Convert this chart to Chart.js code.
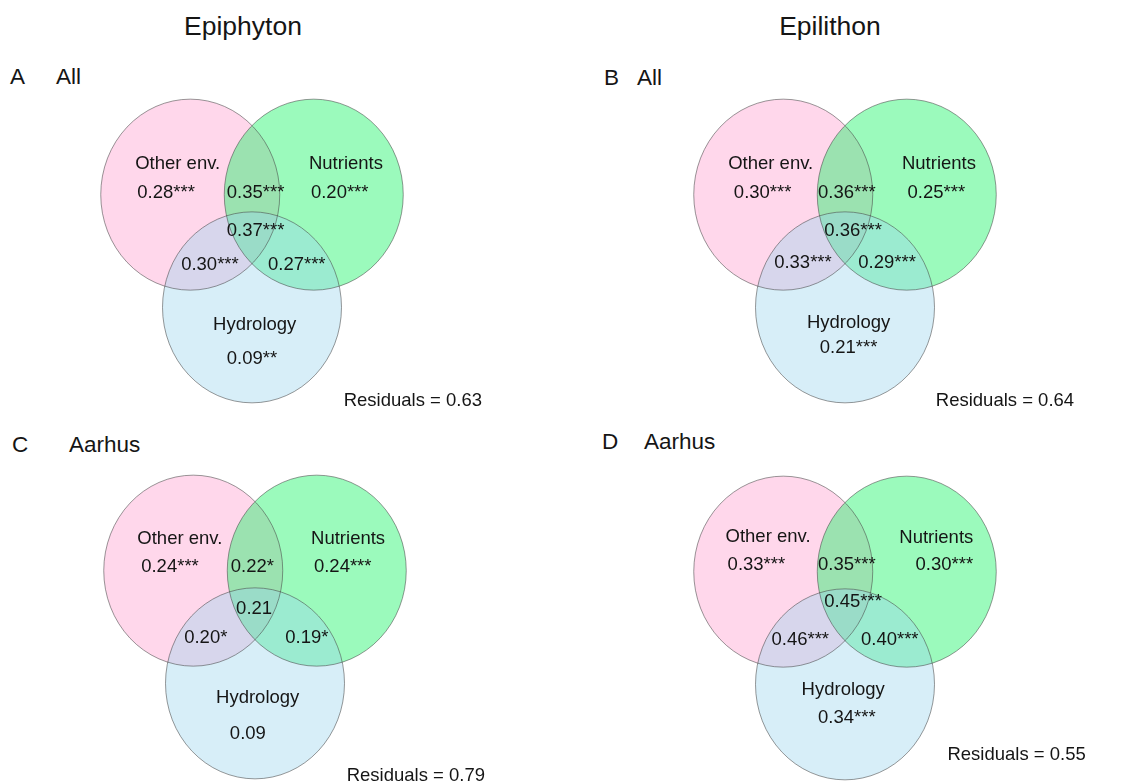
<!DOCTYPE html>
<html><head><meta charset="utf-8">
<script src="https://cdn.jsdelivr.net/npm/chart.js@4.4.1/dist/chart.umd.min.js"></script>
<style>
html,body{margin:0;padding:0;background:#fff;width:1143px;height:782px;overflow:hidden;position:relative;font-family:"Liberation Sans",Arial,sans-serif;}
.t{position:absolute;white-space:nowrap;color:#151515;line-height:1;}
.panel{position:absolute;}
</style></head><body>
<script>
// ---------------- DATA ----------------
const columnTitles = ['Epiphyton', 'Epilithon'];
const panelLetters = ['A', 'B', 'C', 'D'];
const panelSites = ['All', 'All', 'Aarhus', 'Aarhus'];
const setNames = ['Other env.', 'Nutrients', 'Hydrology'];
// region order: Other env. only, Nutrients only, Hydrology only,
//               Other∩Nutrients, Other∩Hydrology, Nutrients∩Hydrology, all three
const valuesA = [0.28, 0.20, 0.09, 0.35, 0.30, 0.27, 0.37];
const signifA = ['***', '***', '**', '***', '***', '***', '***'];
const valuesB = [0.30, 0.25, 0.21, 0.36, 0.33, 0.29, 0.36];
const signifB = ['***', '***', '***', '***', '***', '***', '***'];
const valuesC = [0.24, 0.24, 0.09, 0.22, 0.20, 0.19, 0.21];
const signifC = ['***', '***', '', '*', '*', '*', ''];
const valuesD = [0.33, 0.30, 0.34, 0.35, 0.46, 0.40, 0.45];
const signifD = ['***', '***', '***', '***', '***', '***', '***'];
const residuals = [0.63, 0.64, 0.79, 0.55];

// ---------------- LAYOUT / STYLE ----------------
const VENN_CENTERS = [[-0.69, 0.59], [0.69, 0.59], [0, -0.59]];
const VENN_RADIUS = 1;
const FILLS = ['rgba(255,155,205,0.4)', 'rgba(5,242,87,0.4)', 'rgba(155,212,237,0.4)'];
const STROKE = 'rgba(70,70,70,0.55)';
const PX_X = 89.5, PX_Y = 95.5, HALF_W = 250, HALF_H = 170;
const PANEL_ORIGIN = [[252, 250.5], [845, 250.5], [255, 626.5], [845, 628]];
const LABEL_POS = [
  { names: [[-0.83, 0.86], [1.05, 0.86], [0.03, -0.83]],
    values: [[-0.96, 0.56], [0.98, 0.56], [0.0, -1.18], [0.04, 0.56], [-0.47, -0.20], [0.50, -0.20], [0.04, 0.16]],
    resid: [2.57, -1.62] },
  { names: [[-0.83, 0.86], [1.05, 0.86], [0.04, -0.81]],
    values: [[-0.92, 0.56], [1.02, 0.56], [0.04, -1.07], [0.02, 0.56], [-0.47, -0.18], [0.47, -0.18], [0.09, 0.16]],
    resid: [2.56, -1.62] },
  { names: [[-0.84, 0.87], [1.04, 0.87], [0.03, -0.80]],
    values: [[-0.95, 0.58], [0.98, 0.58], [-0.08, -1.17], [-0.03, 0.58], [-0.55, -0.17], [0.58, -0.17], [-0.01, 0.14]],
    resid: [2.57, -1.61] },
  { names: [[-0.86, 0.90], [1.02, 0.89], [-0.02, -0.70]],
    values: [[-0.99, 0.61], [1.11, 0.61], [0.02, -0.99], [0.02, 0.61], [-0.50, -0.18], [0.50, -0.18], [0.09, 0.22]],
    resid: [2.69, -1.38] }
];
const TITLE_POS = [[243, 35], [830, 35]];
const LETTER_POS = [[10, 56, 85], [604, 637, 86], [12, 69, 453], [602, 644, 450]];
const LABEL_FONT = '18.5px "Liberation Sans", Arial, sans-serif';
const TITLE_SIZE = 26.5, LETTER_SIZE = 22.5;

const panelValues = [valuesA, valuesB, valuesC, valuesD];
const panelSignif = [signifA, signifB, signifC, signifD];

function addText(txt, left, baseline, size, center) {
  const d = document.createElement('div');
  d.className = 't';
  d.textContent = txt;
  d.style.fontSize = size + 'px';
  d.style.left = left + 'px';
  d.style.top = (baseline - 0.8465 * size) + 'px';
  if (center) d.style.transform = 'translateX(-50%)';
  document.body.appendChild(d);
}

columnTitles.forEach((t, i) => addText(t, TITLE_POS[i][0], TITLE_POS[i][1], TITLE_SIZE, true));
panelLetters.forEach((l, i) => {
  addText(l, LETTER_POS[i][0], LETTER_POS[i][2], LETTER_SIZE, false);
  addText(panelSites[i], LETTER_POS[i][1], LETTER_POS[i][2], LETTER_SIZE, false);
});

const vennPlugin = {
  id: 'venn',
  beforeDatasetsDraw(chart) {
    const { ctx, scales: { x, y } } = chart;
    const shapes = chart.data.datasets.map(ds => {
      const c = ds.data[0];
      const cx = x.getPixelForValue(c.x), cy = y.getPixelForValue(c.y);
      const rx = Math.abs(x.getPixelForValue(c.x + ds.vennRadius) - cx);
      const ry = Math.abs(y.getPixelForValue(c.y + ds.vennRadius) - cy);
      return { cx, cy, rx, ry, fill: ds.backgroundColor };
    });
    ctx.save();
    shapes.forEach(s => {
      ctx.beginPath();
      ctx.ellipse(s.cx, s.cy, s.rx, s.ry, 0, 0, Math.PI * 2);
      ctx.fillStyle = s.fill;
      ctx.fill();
    });
    ctx.lineWidth = 1;
    ctx.strokeStyle = STROKE;
    shapes.forEach(s => {
      ctx.beginPath();
      ctx.ellipse(s.cx, s.cy, s.rx, s.ry, 0, 0, Math.PI * 2);
      ctx.stroke();
    });
    ctx.restore();
  },
  afterDatasetsDraw(chart) {
    const { ctx, scales: { x, y } } = chart;
    const o = chart.options.plugins.venn;
    const pos = LABEL_POS[o.panel];
    ctx.save();
    ctx.font = LABEL_FONT;
    ctx.fillStyle = '#151515';
    ctx.textAlign = 'center';
    ctx.textBaseline = 'alphabetic';
    setNames.forEach((n, i) => {
      ctx.fillText(n, x.getPixelForValue(pos.names[i][0]), y.getPixelForValue(pos.names[i][1]));
    });
    o.values.forEach((v, i) => {
      ctx.fillText(v.toFixed(2) + o.signif[i], x.getPixelForValue(pos.values[i][0]), y.getPixelForValue(pos.values[i][1]));
    });
    ctx.textAlign = 'right';
    ctx.fillText('Residuals = ' + o.resid.toFixed(2), x.getPixelForValue(pos.resid[0]), y.getPixelForValue(pos.resid[1]));
    ctx.restore();
  }
};

panelLetters.forEach((letter, p) => {
  const wrap = document.createElement('div');
  wrap.className = 'panel';
  wrap.style.left = (PANEL_ORIGIN[p][0] - HALF_W) + 'px';
  wrap.style.top = (PANEL_ORIGIN[p][1] - HALF_H) + 'px';
  const cv = document.createElement('canvas');
  cv.width = HALF_W * 2; cv.height = HALF_H * 2;
  cv.style.width = (HALF_W * 2) + 'px'; cv.style.height = (HALF_H * 2) + 'px';
  wrap.appendChild(cv);
  document.body.appendChild(wrap);
  new Chart(cv, {
    type: 'scatter',
    data: {
      datasets: setNames.map((n, i) => ({
        label: n,
        data: [{ x: VENN_CENTERS[i][0], y: VENN_CENTERS[i][1] }],
        vennRadius: VENN_RADIUS,
        backgroundColor: FILLS[i],
        pointRadius: 0,
        pointHoverRadius: 0
      }))
    },
    options: {
      responsive: false,
      animation: false,
      events: [],
      layout: { padding: 0 },
      plugins: {
        legend: { display: false },
        tooltip: { enabled: false },
        venn: { panel: p, values: panelValues[p], signif: panelSignif[p], resid: residuals[p] }
      },
      scales: {
        x: { type: 'linear', display: false, min: -HALF_W / PX_X, max: HALF_W / PX_X },
        y: { type: 'linear', display: false, min: -HALF_H / PX_Y, max: HALF_H / PX_Y }
      }
    },
    plugins: [vennPlugin]
  });
});
</script>
</body></html>
